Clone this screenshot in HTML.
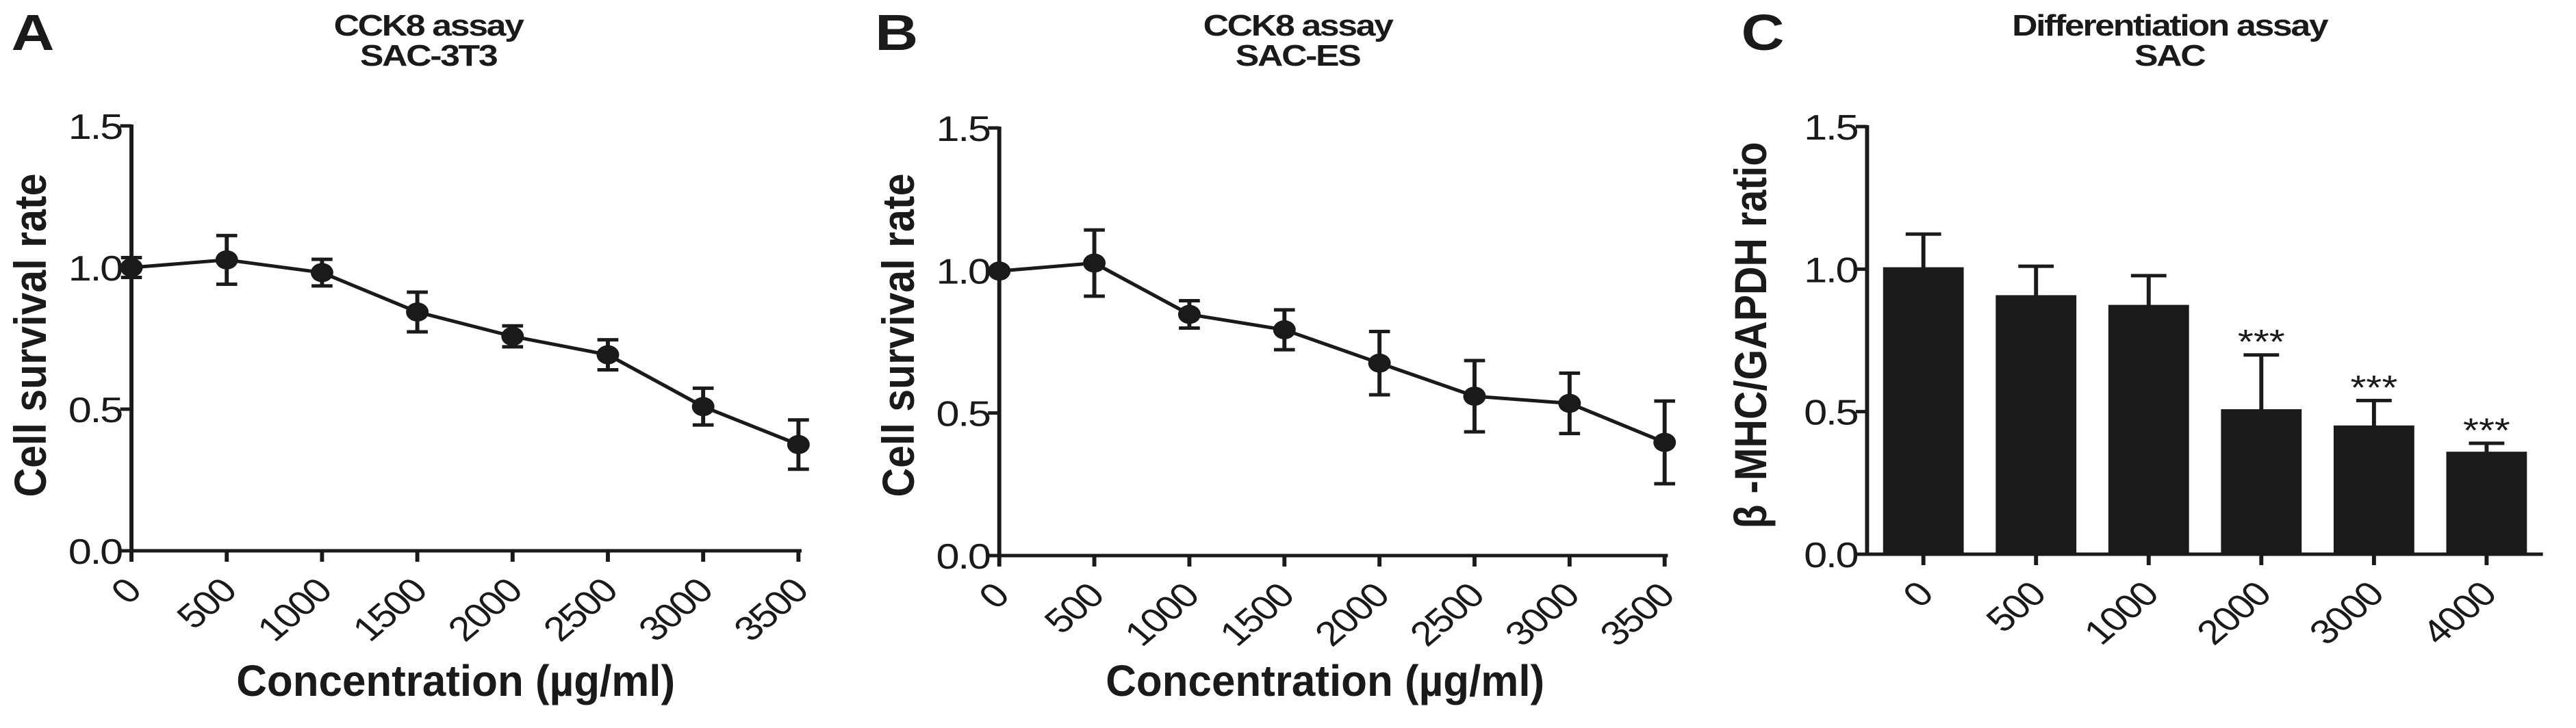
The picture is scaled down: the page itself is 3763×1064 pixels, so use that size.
<!DOCTYPE html>
<html><head><meta charset="utf-8"><style>
html,body{margin:0;padding:0;background:#fff;}
svg{display:block;}
text{font-family:"Liberation Sans",Arial,sans-serif;fill:#1a1a1a;}
</style></head><body>
<svg id="fig" width="3763" height="1064" viewBox="0 0 3194 1064" preserveAspectRatio="none" xmlns="http://www.w3.org/2000/svg"></svg>
<script>
// Panel A data
const aCats = [0,500,1000,1500,2000,2500,3000,3500];
const aVals = [1.0,1.027,0.982,0.843,0.757,0.692,0.509,0.375];
const aErrs = [0.035,0.086,0.047,0.07,0.037,0.053,0.065,0.087];
// Panel B data
const bCats = [0,500,1000,1500,2000,2500,3000,3500];
const bVals = [0.998,1.026,0.846,0.792,0.675,0.559,0.534,0.397];
const bErrs = [0,0.116,0.048,0.07,0.111,0.125,0.106,0.145];
// Panel C data
const cCats = ["0","500","1000","2000","3000","4000"];
const cVals = [1.003,0.905,0.871,0.505,0.448,0.356];
const cErrs = [0.12,0.105,0.106,0.194,0.091,0.033];
const cSig = ["","","","***","***","***"];
const yTicks = [0,0.5,1.0,1.5];
const yTickLabels = ["0.0","0.5","1.0","1.5"];

const NS="http://www.w3.org/2000/svg";
const svg=document.getElementById('fig');
const C="#1a1a1a";
function mk(tag,attrs,parent){const e=document.createElementNS(NS,tag);for(const k in attrs)e.setAttribute(k,attrs[k]);(parent||svg).appendChild(e);return e;}
function txt(s,attrs,parent){const t=mk('text',attrs,parent);t.textContent=s;return t;}

function axes(g,x0,x1,y0,y1,yScale){
  const ya=mk('line',{x1:x0,y1:y0,x2:x0,y2:y1-2,stroke:C,'stroke-width':5},g);
  
  
  const xa=mk('line',{x1:x0-2,y1:y0,x2:x1,y2:y0,stroke:C,'stroke-width':5},g);
  
  
  yTicks.forEach((v,i)=>{
    const y=yScale(v);
    const tk=mk('line',{x1:x0-14,y1:y,x2:x0,y2:y,stroke:C,'stroke-width':5},g);
    
    
    const lb=txt(yTickLabels[i],{x:x0-12,y:y+19,'text-anchor':'end','font-size':52,'letter-spacing':-2},g);
    
    
  });
}
function xLabel(g,s,x,y0){
  const tk=mk('line',{x1:x,y1:y0,x2:x,y2:y0+16,stroke:C,'stroke-width':5},g);
  
  
  const ax=x+14, ay=y0+62;
  const lb=txt(s,{x:ax,y:ay,'text-anchor':'end','font-size':50,'letter-spacing':-2,transform:`rotate(-45 ${ax} ${ay})`},g);
  
  
}
function titles(g,letter,lx,t1,t2,tcx,ytitle,ycx,ylen,xtitle,xcx){
  const L=txt(letter,{x:lx,y:73,'font-size':74,'font-weight':'bold'},g);
  
  
  const a=txt(t1,{x:tcx,y:52,'text-anchor':'middle','font-size':44,'font-weight':'bold','letter-spacing':-2},g);
  
  
  const b=txt(t2,{x:tcx,y:96,'text-anchor':'middle','font-size':44,'font-weight':'bold','letter-spacing':-2},g);
  
  
  const yt=txt(ytitle,{x:0,y:0,'text-anchor':'middle','font-size':56,'font-weight':'bold',textLength:ylen,lengthAdjust:'spacingAndGlyphs',transform:`translate(${ycx+20},490) rotate(-90)`},g);
  
  
  if(xtitle){
    const xt=txt(xtitle,{x:xcx,y:1017,'text-anchor':'middle','font-size':64,'font-weight':'bold',textLength:544,lengthAdjust:'spacingAndGlyphs'},g);
    
    
  }
}
function linePanel(name,cats,vals,errs,x0,x1,y0,y1){
  const g=mk('g',{});
  
  
  const maxC=cats[cats.length-1];
  const xs=v=>x0+(v/maxC)*(x1-x0);
  const ys=v=>y0-(v/1.5)*(y0-y1);
  axes(g,x0,x1+4,y0,y1,ys);
  cats.forEach(c=>xLabel(g,String(c),xs(c),y0));
  const pts=cats.map((c,i)=>xs(c)+','+ys(vals[i])).join(' ');
  const pl=mk('polyline',{points:pts,fill:'none',stroke:C,'stroke-width':5},g);
  
  
  cats.forEach((c,i)=>{
    const x=xs(c),yt=ys(vals[i]+errs[i]),yb=ys(vals[i]-errs[i]);
    if(errs[i]>0){
      const eb=mk('path',{d:`M${x},${yt}V${yb}M${x-13},${yt}H${x+13}M${x-13},${yb}H${x+13}`,stroke:C,'stroke-width':5,fill:'none'},g);
      
      
    }
    const pt=mk('circle',{cx:x,cy:ys(vals[i]),r:14,fill:C},g);
    
    
  });
  return g;
}
// Panel A
const gA=linePanel('panel-a-chart',aCats,aVals,aErrs,163,990,805,184);
titles(gA,'A',14,'CCK8 assay','SAC-3T3',531,'Cell survival rate',37,473,'Concentration (µg/ml)',565);
// Panel B
const gB=linePanel('panel-b-chart',bCats,bVals,bErrs,1239,2064,812,187);
titles(gB,'B',1085,'CCK8 assay','SAC-ES',1609,'Cell survival rate',1113,473,'Concentration (µg/ml)',1643);
// Panel C
(function(){
  const g=mk('g',{});
  
  
  const x0=2315,x1=3153,y0=810,y1=185;
  const band=(x1-x0)/cCats.length;
  const xs=i=>x0+band*(i+0.5);
  const ys=v=>y0-(v/1.5)*(y0-y1);
  cCats.forEach((c,i)=>{
    const x=xs(i),top=ys(cVals[i]),et=ys(cVals[i]+cErrs[i]);
    const eb=mk('path',{d:`M${x},${top}V${et}M${x-22},${et}H${x+22}`,stroke:C,'stroke-width':5,fill:'none'},g);
    
    
    const r=mk('rect',{x:x-48.5,y:top,width:97,height:y0-top,fill:C,stroke:C,'stroke-width':3},g);
    
    
    if(cSig[i]){
      const s=txt(cSig[i],{x:x,y:et-2,'text-anchor':'middle','font-size':50},g);
      
      
    }
    xLabel(g,c,x,y0);
  });
  axes(g,x0,x1,y0,y1,ys);
  titles(g,'C',2159,'Differentiation assay','SAC',2690,'β -MHC/GAPDH ratio',2170,565,null,0);
})();
</script>
</body></html>
